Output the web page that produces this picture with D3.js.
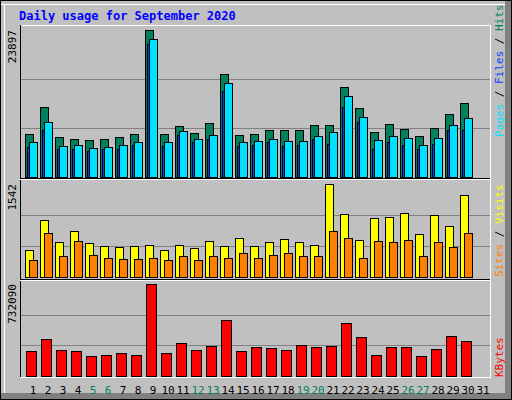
<!DOCTYPE html><html><head><meta charset="utf-8">
<script src="https://cdn.jsdelivr.net/npm/d3@7"></script>
<style>body{margin:0;background:#fff}svg{display:block}</style></head><body>
<script>
const days = d3.range(1,32);
const weekend = [5,6,12,13,19,20,26,27];
const hits  = [7030,11410,6540,6220,6060,6220,6540,7030,23897,7030,8330,7190,8810,16760,6870,7030,7680,7680,7680,8490,8490,14650,11250,7350,8650,7840,6700,8000,10270,12060];
const files = [5730,8980,5080,5240,4760,4920,5240,5730,22440,5730,7520,6220,6870,15300,5730,5890,6220,5890,5890,6700,7350,13190,9790,6060,6700,6380,5240,6380,8490,9620];
const pages = [4810,7680,4490,4600,4270,4490,4600,5240,21630,5080,6870,5730,6220,14000,5080,5240,5730,5080,5240,6220,5410,11410,8980,4600,5730,5240,4600,5410,7680,7680];
const visits= [451,941,573,757,557,507,490,507,523,440,523,473,590,507,640,507,573,623,573,523,1542,1041,607,974,991,1058,707,1024,841,1358];
const sites = [290,724,356,590,373,323,306,306,323,290,340,290,356,323,406,323,373,406,340,340,757,640,323,590,573,607,340,573,490,724];
const kbytes= [195000,291000,203000,195000,163000,171000,187000,171000,732090,187000,259000,203000,235000,444000,195000,227000,219000,203000,243000,227000,235000,420000,307000,171000,227000,227000,163000,211000,315000,275000];
const maxLabels = ["23897","1542","732090"];

const W=512,H=400;
const svg=d3.select("body").append("svg").attr("width",W).attr("height",H).attr("shape-rendering","crispEdges");
svg.append("rect").attr("width",W).attr("height",H).attr("fill","#c0c0c0");
// outer frame
svg.append("rect").attr("x",0.5).attr("y",0.5).attr("width",W-1).attr("height",H-1).attr("fill","none").attr("stroke","#000");
svg.append("rect").attr("x",505).attr("y",1).attr("width",6).attr("height",398).attr("fill","#808080");
svg.append("rect").attr("x",1).attr("y",393).attr("width",510).attr("height",6).attr("fill","#808080");
svg.append("line").attr("x1",1).attr("y1",4.5).attr("x2",505).attr("y2",4.5).attr("stroke","#fff");
svg.append("line").attr("x1",4.5).attr("y1",4).attr("x2",4.5).attr("y2",393).attr("stroke","#fff");

const mono="'DejaVu Sans Mono','Liberation Mono',monospace";
svg.append("text").attr("x",19).attr("y",20).text("Daily usage for September 2020")
  .attr("font-family",mono).attr("font-weight","bold").attr("font-size",12).attr("fill","#0000ff");

const x=d3.scaleLinear().domain([1,31]).range([25,475]);
const L=20,R=490;
// plot box
svg.append("line").attr("x1",L).attr("y1",25.5).attr("x2",R).attr("y2",25.5).attr("stroke","#fff");
svg.append("line").attr("x1",L+0.5).attr("y1",25).attr("x2",L+0.5).attr("y2",378).attr("stroke","#000");
svg.append("line").attr("x1",R+0.5).attr("y1",25).attr("x2",R+0.5).attr("y2",378).attr("stroke","#fff");
svg.append("line").attr("x1",L).attr("y1",377.5).attr("x2",R+1).attr("y2",377.5).attr("stroke","#fff");

const panels=[{top:30,bot:177,max:23897,sep:178},{top:184,bot:277,max:1542,sep:279},{top:284,bot:376,max:732090}];
panels.forEach((p,i)=>{
  p.y=d3.scaleLinear().domain([0,p.max]).range([p.bot,p.top]);
  [1/3,2/3].forEach(f=>{const gy=Math.round(p.bot-(p.bot-p.top)*f)+0.5;
    svg.append("line").attr("x1",L+1).attr("x2",R).attr("y1",gy).attr("y2",gy).attr("stroke","#808080");});
  if(p.sep){svg.append("line").attr("x1",L).attr("x2",R).attr("y1",p.sep+0.5).attr("y2",p.sep+0.5).attr("stroke","#000");
    svg.append("line").attr("x1",L).attr("x2",R).attr("y1",p.sep+1.5).attr("y2",p.sep+1.5).attr("stroke","#fff");}
  svg.append("text").attr("transform",`translate(16,${p.top})rotate(-90)`).attr("text-anchor","end")
    .attr("font-family",mono).attr("font-size",11).attr("fill","#000").text(maxLabels[i]);
});
function bars(data,p,off,w,color){
  svg.append("g").selectAll("rect").data(data).join("rect")
   .attr("x",(d,i)=>x(i+1)+off+0.5).attr("width",w)
   .attr("y",d=>Math.round(p.y(d))+0.5).attr("height",d=>p.bot-Math.round(p.y(d)))
   .attr("fill",color).attr("stroke","#000");
}
bars(hits,panels[0],0,8,"#00805c");
bars(pages,panels[0],2,8,"#0040ff");
bars(files,panels[0],4,8,"#00e0ff");
bars(visits,panels[1],0,8,"#ffff00");
bars(sites,panels[1],4,8,"#ff8000");
bars(kbytes,panels[2],1,10,"#ff0000");

// day labels
svg.append("g").selectAll("text").data(days).join("text")
  .attr("x",d=>x(d)+8).attr("y",394).attr("text-anchor","middle")
  .attr("font-family",mono).attr("font-size",11)
  .attr("fill",d=>weekend.includes(d)?"#00805c":"#000").text(d=>d);

// right labels
function rlabel(yBottom,parts){
  const t=svg.append("text").attr("transform",`translate(503,${yBottom})rotate(-90)`)
   .attr("font-family",mono).attr("font-size",11);
  parts.forEach(([s,c])=>t.append("tspan").attr("fill",c).text(s));
}
rlabel(137,[["Pages","#00e0ff"],[" / ","#000"],["Files","#0040ff"],[" / ","#000"],["Hits","#00805c"]]);
rlabel(277,[["Sites","#ff8000"],[" / ","#000"],["Visits","#ffff00"]]);
rlabel(377,[["KBytes","#ff0000"]]);
</script></body></html>
